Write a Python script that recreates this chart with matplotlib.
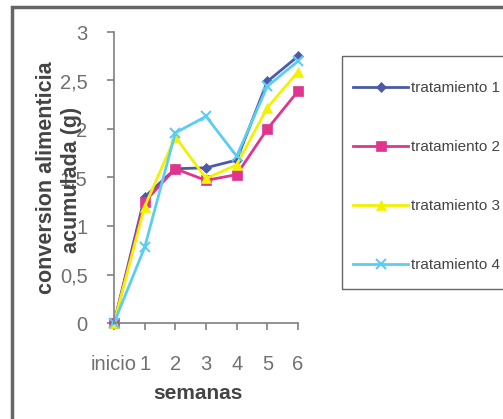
import numpy as np
import matplotlib.pyplot as plt
from matplotlib.patches import Rectangle

plt.rcParams['font.family'] = ['Liberation Sans', 'DejaVu Sans']

semanas = ["inicio", "1", "2", "3", "4", "5", "6"]
trat1 = [0, 1.30, 1.59, 1.60, 1.68, 2.49, 2.75]
trat2 = [0, 1.25, 1.59, 1.47, 1.53, 2.00, 2.39]
trat3 = [0, 1.20, 1.92, 1.49, 1.63, 2.22, 2.59]
trat4 = [0, 0.78, 1.96, 2.13, 1.72, 2.44, 2.70]
nombres = ["tratamiento 1", "tratamiento 2", "tratamiento 3", "tratamiento 4"]

W, H = 503, 419
fig = plt.figure(figsize=(W / 100, H / 100), dpi=100)

# outer chart frame
fig.patches.append(Rectangle((12 / W, -0.1), 1.2, 1 - 7 / H + 0.1, transform=fig.transFigure,
                             fill=False, edgecolor="#666666", linewidth=2.5))

ax = fig.add_axes([114 / W, 1 - 323 / H, 184 / W, 291 / H])
x = np.arange(len(semanas))
estilos = [
    (trat1, "#4a5aa8", "D", 5.5),
    (trat2, "#e0358c", "s", 7),
    (trat3, "#f2f200", "^", 7.5),
    (trat4, "#5ccdf2", "x", 7),
]
for (vals, col, mk, ms), nom in zip(estilos, nombres):
    ax.plot(x, vals, color=col, marker=mk, markersize=ms, linewidth=2,
            markeredgewidth=1.5 if mk == "x" else 0.5, label=nom, clip_on=False)

ax.set_xlim(0, 6)
ax.set_ylim(0, 3)
ax.set_yticks(np.arange(0, 3.01, 0.5))
ax.set_yticklabels(["0", "0,5", "1", "1,5", "2", "2,5", "3"])
ax.set_xticks(x)
ax.set_xticklabels(semanas)
for s in ["top", "right"]:
    ax.spines[s].set_visible(False)
for s in ["left", "bottom"]:
    ax.spines[s].set_color("#808080")
    ax.spines[s].set_linewidth(1.2)
ax.tick_params(colors="#808080", labelcolor="#707070", labelsize=14.5, length=5, width=1.2)
ax.tick_params(axis="x", pad=18)
ax.tick_params(axis="y", pad=14)

fig.text(198 / W, 1 - 393 / H, "semanas", ha="center", va="center", fontsize=15,
         fontweight="bold", color="#444444")
fig.text(47 / W, 1 - 178 / H, "conversion alimenticia", ha="center", va="center",
         rotation=90, fontsize=15.5, fontweight="bold", color="#444444")
fig.text(72 / W, 1 - 180 / H, "acumulada (g)", ha="center", va="center",
         rotation=90, fontsize=15.5, fontweight="bold", color="#444444")

# legend box
fig.patches.append(Rectangle((342 / W, 1 - 289 / H), 0.5, 233 / H, transform=fig.transFigure,
                             fill=False, edgecolor="#666666", linewidth=1))
fig.legend(loc="upper left", bbox_to_anchor=(353 / W, 1 - 81 / H), frameon=False,
           fontsize=11, handlelength=3.6, handletextpad=0.2, labelspacing=2.95,
           labelcolor="#444444", borderaxespad=0, borderpad=0)

fig.savefig("out.png", dpi=100)
